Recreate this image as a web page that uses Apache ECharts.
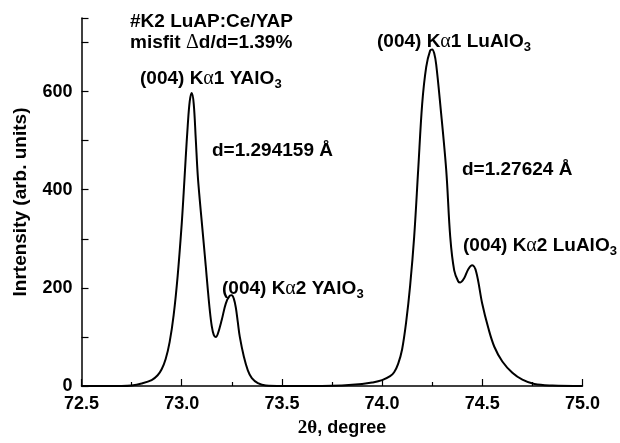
<!DOCTYPE html>
<html><head><meta charset="utf-8">
<script src="https://cdn.jsdelivr.net/npm/echarts@6/dist/echarts.min.js"></script>
<style>html,body{margin:0;padding:0;background:#fff}#c{width:620px;height:443px}</style>
</head><body><div id="c"></div>
<script>
var twoTheta = [72.50,72.60,72.70,72.75,72.80,72.85,72.88,72.90,72.92,72.94,72.96,72.98,73.00,73.01,73.02,73.03,73.04,73.05,73.06,73.07,73.08,73.09,73.10,73.11,73.12,73.13,73.14,73.15,73.16,73.17,73.18,73.20,73.22,73.24,73.25,73.26,73.27,73.28,73.29,73.31,73.33,73.35,73.38,73.42,73.50,73.60,73.70,73.80,73.90,73.95,74.00,74.04,74.06,74.08,74.10,74.12,74.14,74.16,74.18,74.20,74.22,74.24,74.25,74.26,74.27,74.29,74.32,74.34,74.36,74.38,74.39,74.41,74.43,74.45,74.47,74.50,74.53,74.56,74.60,74.65,74.70,74.76,74.85,75.00];
var intensity = [0,0,0,1,5,12,22,34,55,90,145,225,330,395,465,530,580,597,575,505,430,380,335,290,245,198,155,122,104,100,106,135,168,184,185,178,160,130,100,60,32,16,6,1,0,0,0,1,4,7,12,20,28,45,75,130,205,304,440,575,650,684,686,678,655,575,440,304,235,213,211,220,238,246,232,167,118,80,50,27,13,4,1,0];
var xTicks = {min: 72.5, max: 75.0, step: 0.5};
var yTicks = {min: 0, max: 750, step: 100, labelStep: 200};

var FONT = 'Liberation Sans';
var chart = echarts.init(document.getElementById('c'), null, {renderer: 'canvas'});
var data = twoTheta.map(function (x, i) { return [x, intensity[i]]; });

function ann(text, left, top) {
  return {
    type: 'text', left: left, top: top,
    style: {
      text: text,
      fontFamily: FONT, fontWeight: 'bold', fontSize: 19, fill: '#000',
      rich: {
        a: {fontFamily: 'Liberation Serif', fontWeight: 'normal', fontSize: 20, fill: '#000'},
        s: {fontFamily: FONT, fontWeight: 'bold', fontSize: 13, fill: '#000', padding: [10, 0, 0, 0]}
      }
    }
  };
}
function plain(text, left, top) {
  return {type: 'text', left: left, top: top, style: {text: text, fontFamily: FONT, fontWeight: 'bold', fontSize: 19, fill: '#000',
    rich: {a: {fontFamily: 'Liberation Serif', fontWeight: 'normal', fontSize: 20, fill: '#000'}}}};
}

chart.setOption({
  animation: false,
  grid: {left: 81.5, right: 37.5, top: 18, bottom: 53},
  xAxis: {
    type: 'value', min: xTicks.min, max: xTicks.max, interval: xTicks.step,
    name: '{t|2θ}{n|, degree}', nameLocation: 'middle', nameGap: 33,
    nameTextStyle: {
      padding: [0, 0, 0, 20],
      rich: {
        t: {fontFamily: 'Liberation Serif', fontWeight: 'bold', fontSize: 19, color: '#000'},
        n: {fontFamily: FONT, fontWeight: 'bold', fontSize: 18, color: '#000'}
      }
    },
    axisLine: {lineStyle: {color: '#000', width: 1.5}},
    axisTick: {inside: true, length: 7, lineStyle: {color: '#000', width: 1.2}},
    minorTick: {show: true, splitNumber: 2, length: 4, lineStyle: {color: '#000', width: 1.2}},
    splitLine: {show: false},
    axisLabel: {
      margin: 9, color: '#000', fontFamily: FONT, fontWeight: 'bold', fontSize: 18,
      formatter: function (v) { return v.toFixed(1); }
    }
  },
  yAxis: {
    type: 'value', min: yTicks.min, max: yTicks.max, interval: yTicks.step,
    name: 'Inrtensity (arb. units)', nameLocation: 'middle', nameGap: 51,
    nameTextStyle: {fontFamily: FONT, fontWeight: 'bold', fontSize: 19, color: '#000'},
    axisLine: {show: true, lineStyle: {color: '#000', width: 1.5}},
    axisTick: {show: true, inside: true, length: 7, lineStyle: {color: '#000', width: 1.2}},
    splitLine: {show: false},
    axisLabel: {
      margin: 9, color: '#000', fontFamily: FONT, fontWeight: 'bold', fontSize: 18,
      formatter: function (v) { return v % yTicks.labelStep === 0 ? String(v) : ''; }
    }
  },
  series: [{
    type: 'line', data: data, smooth: 0.35, symbol: 'none',
    lineStyle: {color: '#000', width: 2}
  }],
  graphic: [
    plain('#K2 LuAP:Ce/YAP', 130, 12),
    plain('misfit {a|Δ}d/d=1.39%', 130, 33),
    ann('(004) K{a|α}1 YAlO{s|3}', 140, 69),
    plain('d=1.294159 Å', 212, 141),
    ann('(004) K{a|α}2 YAlO{s|3}', 222, 279),
    ann('(004) K{a|α}1 LuAlO{s|3}', 377, 32),
    plain('d=1.27624 Å', 462, 160),
    ann('(004) K{a|α}2 LuAlO{s|3}', 463, 236)
  ]
});
</script></body></html>
